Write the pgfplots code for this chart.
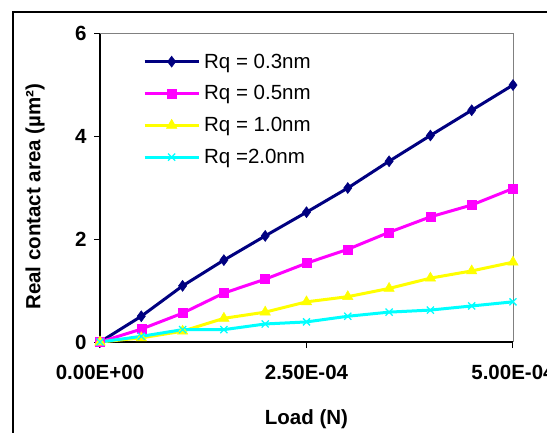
\documentclass[border=0pt]{standalone}
\usepackage{fontspec}
\setmainfont{Liberation Sans}
\usepackage{pgfplots}
\pgfplotsset{compat=1.18}
\definecolor{rqnavy}{RGB}{0,0,128}
\definecolor{rqmag}{RGB}{255,0,255}
\definecolor{rqyel}{RGB}{255,255,0}
\definecolor{rqcyan}{RGB}{0,255,255}
\newcommand{\bigf}{\fontsize{20.5}{24}\selectfont}
\begin{document}
\begin{tikzpicture}
\path[use as bounding box, clip] (0pt,0pt) rectangle (547pt,432pt);
\draw[line width=1.6pt] (13pt,-20pt) rectangle (570pt,420pt);
\begin{axis}[
    at={(100pt,90pt)}, anchor=south west,
    scale only axis, width=413pt, height=309pt,
    xmin=0, xmax=5e-4, ymin=0, ymax=6,
    axis x line*=bottom, axis y line*=left,
    axis line style={line width=1.2pt, -},
    tick align=outside, major tick length=6pt,
    tick style={line width=1pt, black},
    xtick={0,2.5e-4,5e-4},
    xticklabels={0.00E+00,2.50E-04,5.00E-04},
    ytick={0,2,4,6}, yticklabels={0,2,4,6},
    ticklabel style={font=\bfseries\bigf},
    scaled x ticks=false,
    xticklabel style={yshift=-14pt},
    yticklabel style={xshift=-4pt},
    xlabel={\bfseries Load (N)}, ylabel={\bfseries Real contact area (µm²)},
    label style={font=\bfseries\bigf},
    xlabel style={at={(axis description cs:0.5,-0.25)}, anchor=center},
    ylabel style={at={(axis description cs:-0.157,0.47)}, anchor=center, rotate=0},
    legend style={draw=none, fill=none, at={(0.104,0.94)}, anchor=north west,
        font=\bigf, row sep=12pt, inner sep=0pt,
        nodes={inner xsep=4pt}},
    legend cell align=left,
    legend image code/.code={
        \draw[mark repeat=2,mark phase=2,#1] plot coordinates {(0pt,0pt) (27pt,0pt) (54pt,0pt)};
    },
    every axis plot/.append style={line width=3pt},
    clip=false,
]
\addplot[color=rqnavy, mark=diamond*, mark size=5.5pt, mark options={line width=0.5pt}] coordinates {
(0,0) (0.5e-4,0.50) (1.0e-4,1.09) (1.5e-4,1.59) (2.0e-4,2.06) (2.5e-4,2.52)
(3.0e-4,2.99) (3.5e-4,3.51) (4.0e-4,4.01) (4.5e-4,4.50) (5.0e-4,4.99)};
\addlegendentry{Rq = 0.3nm}
\addplot[color=rqmag, mark=square*, mark size=4.5pt, mark options={line width=0.5pt}] coordinates {
(0,0) (0.5e-4,0.25) (1.0e-4,0.56) (1.5e-4,0.95) (2.0e-4,1.22) (2.5e-4,1.53)
(3.0e-4,1.80) (3.5e-4,2.13) (4.0e-4,2.43) (4.5e-4,2.66) (5.0e-4,2.98)};
\addlegendentry{Rq = 0.5nm}
\addplot[color=rqyel, mark=triangle*, mark size=6pt, mark options={line width=0.5pt}] coordinates {
(0,0) (0.5e-4,0.08) (1.0e-4,0.21) (1.5e-4,0.46) (2.0e-4,0.58) (2.5e-4,0.78)
(3.0e-4,0.88) (3.5e-4,1.04) (4.0e-4,1.24) (4.5e-4,1.38) (5.0e-4,1.55)};
\addlegendentry{Rq = 1.0nm}
\addplot[color=rqcyan, mark=x, mark size=5pt, mark options={line width=1.3pt}] coordinates {
(0,0) (0.5e-4,0.11) (1.0e-4,0.24) (1.5e-4,0.24) (2.0e-4,0.35) (2.5e-4,0.39)
(3.0e-4,0.50) (3.5e-4,0.58) (4.0e-4,0.62) (4.5e-4,0.70) (5.0e-4,0.78)};
\addlegendentry{Rq =2.0nm}
\draw[line width=0.8pt, gray] (rel axis cs:0,1) -- (rel axis cs:1,1) -- (rel axis cs:1,0);
\end{axis}
\end{tikzpicture}
\end{document}
